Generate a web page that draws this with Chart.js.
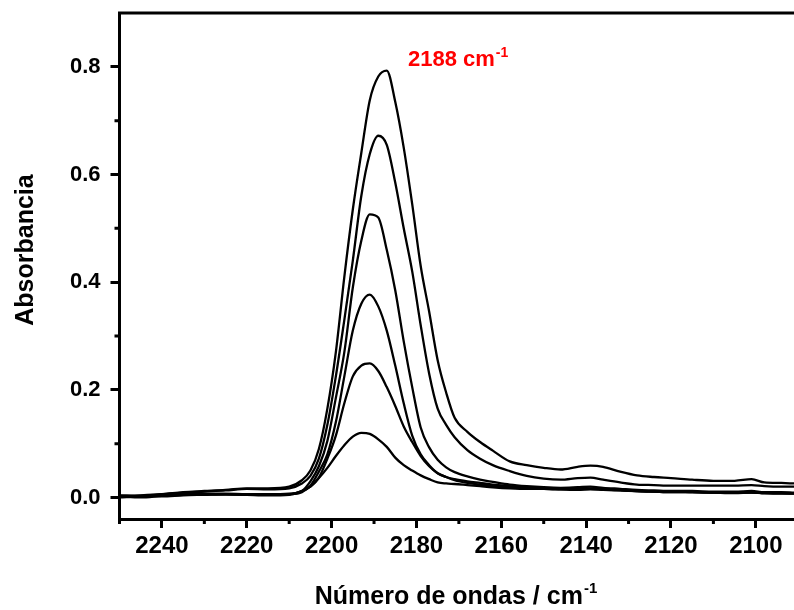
<!DOCTYPE html>
<html>
<head>
<meta charset="utf-8">
<script src="https://cdn.jsdelivr.net/npm/chart.js@4"></script>
<style>
  html, body { margin: 0; padding: 0; background: #fff; overflow: hidden; }
</style>
</head>
<body>
<canvas id="myChart" width="794" height="610"></canvas>
<script>
// Wavenumbers (cm-1)
const wavenumbers = [2250, 2245, 2240, 2235, 2230, 2225, 2220, 2215, 2210, 2207, 2205, 2203, 2201, 2199, 2197, 2195, 2193, 2191, 2189, 2187, 2185, 2183, 2181, 2179, 2177, 2175, 2173, 2171, 2168, 2165, 2162, 2158, 2154, 2150, 2146, 2142, 2139, 2136, 2132, 2128, 2124, 2120, 2115, 2110, 2105, 2101, 2098, 2094, 2091];

// Absorbance spectra, largest to smallest
const absorbance1 = [0.003, 0.004, 0.006, 0.010, 0.012, 0.014, 0.017, 0.017, 0.020, 0.032, 0.050, 0.090, 0.165, 0.270, 0.410, 0.535, 0.640, 0.738, 0.782, 0.793, 0.735, 0.650, 0.545, 0.430, 0.345, 0.255, 0.195, 0.148, 0.122, 0.103, 0.087, 0.067, 0.060, 0.055, 0.052, 0.057, 0.059, 0.057, 0.048, 0.041, 0.038, 0.036, 0.033, 0.031, 0.031, 0.034, 0.028, 0.027, 0.026];
const absorbance2 = [0.002, 0.003, 0.006, 0.009, 0.011, 0.013, 0.016, 0.015, 0.017, 0.026, 0.040, 0.072, 0.135, 0.225, 0.330, 0.440, 0.560, 0.638, 0.672, 0.655, 0.585, 0.500, 0.420, 0.320, 0.230, 0.165, 0.135, 0.112, 0.088, 0.072, 0.060, 0.049, 0.040, 0.035, 0.033, 0.036, 0.037, 0.033, 0.028, 0.024, 0.023, 0.022, 0.022, 0.022, 0.022, 0.023, 0.021, 0.020, 0.020];
const absorbance3 = [0.004, 0.003, 0.005, 0.007, 0.007, 0.007, 0.006, 0.006, 0.007, 0.012, 0.030, 0.058, 0.105, 0.185, 0.270, 0.390, 0.477, 0.526, 0.520, 0.460, 0.385, 0.290, 0.205, 0.130, 0.093, 0.070, 0.056, 0.047, 0.039, 0.033, 0.029, 0.024, 0.021, 0.019, 0.018, 0.019, 0.020, 0.018, 0.016, 0.014, 0.013, 0.012, 0.012, 0.011, 0.011, 0.012, 0.010, 0.010, 0.009];
const absorbance4 = [0.001, 0.002, 0.004, 0.006, 0.006, 0.006, 0.005, 0.005, 0.006, 0.010, 0.022, 0.048, 0.080, 0.140, 0.225, 0.310, 0.360, 0.377, 0.355, 0.310, 0.245, 0.175, 0.115, 0.080, 0.060, 0.045, 0.038, 0.034, 0.030, 0.027, 0.024, 0.021, 0.019, 0.017, 0.016, 0.017, 0.017, 0.016, 0.014, 0.012, 0.011, 0.010, 0.010, 0.009, 0.009, 0.010, 0.008, 0.008, 0.007];
const absorbance5 = [0.002, 0.000, 0.003, 0.005, 0.006, 0.006, 0.005, 0.004, 0.005, 0.012, 0.020, 0.037, 0.072, 0.115, 0.175, 0.225, 0.245, 0.249, 0.235, 0.205, 0.170, 0.132, 0.103, 0.077, 0.058, 0.045, 0.038, 0.032, 0.027, 0.024, 0.021, 0.019, 0.017, 0.016, 0.015, 0.015, 0.016, 0.015, 0.013, 0.012, 0.011, 0.010, 0.010, 0.009, 0.008, 0.009, 0.008, 0.007, 0.007];
const absorbance6 = [0.000, 0.002, 0.002, 0.004, 0.005, 0.006, 0.006, 0.005, 0.006, 0.012, 0.020, 0.036, 0.055, 0.077, 0.097, 0.113, 0.120, 0.118, 0.108, 0.094, 0.074, 0.060, 0.050, 0.041, 0.034, 0.028, 0.026, 0.025, 0.023, 0.021, 0.019, 0.017, 0.016, 0.016, 0.015, 0.014, 0.015, 0.014, 0.013, 0.012, 0.011, 0.011, 0.010, 0.009, 0.009, 0.009, 0.008, 0.008, 0.008];

// Tick labels
const xTickValues = [2240, 2220, 2200, 2180, 2160, 2140, 2120, 2100];
const xMinorTicks = [2250, 2230, 2210, 2190, 2170, 2150, 2130, 2110];
const yTickValues = [0.0, 0.2, 0.4, 0.6, 0.8];
const yMinorTicks = [0.1, 0.3, 0.5, 0.7];

const fontFamily = '"Liberation Sans", Arial, sans-serif';
const ctx = document.querySelector("#myChart");

// Builds {x, y} points for one spectrum
function toPoints(values) {
    return wavenumbers.map((w, i) => ({ x: w, y: values[i] }));
}

const allSeries = [absorbance1, absorbance2, absorbance3, absorbance4, absorbance5, absorbance6];

// Remove the extra room Chart.js keeps for edge labels
function noEdgePadding(scale) {
    scale.paddingTop = 0;
    scale.paddingBottom = 0;
    scale.paddingLeft = 0;
    scale.paddingRight = 0;
}

// Minor ticks, top frame line, titles and the peak label
const framePlugin = {
    id: "frame",
    afterDraw(chart) {
        const c = chart.ctx;
        const area = chart.chartArea;
        const xs = chart.scales.x;
        const ys = chart.scales.y;
        c.save();
        c.strokeStyle = "#000";
        c.lineWidth = 3;
        c.beginPath();
        c.moveTo(area.left - 1.5, area.top);
        c.lineTo(area.right, area.top);
        xMinorTicks.forEach(v => {
            const px = xs.getPixelForValue(v);
            c.moveTo(px, area.bottom);
            c.lineTo(px, area.bottom + 5);
        });
        yMinorTicks.forEach(v => {
            const py = ys.getPixelForValue(v);
            c.moveTo(area.left, py);
            c.lineTo(area.left - 5, py);
        });
        c.stroke();

        c.fillStyle = "#000";
        c.textBaseline = "alphabetic";
        // x title with superscript
        c.font = "bold 25px " + fontFamily;
        const xTitle = "Número de ondas / cm";
        const w1 = c.measureText(xTitle).width;
        c.font = "bold 15px " + fontFamily;
        const w2 = c.measureText("-1").width;
        const startX = 456 - (w1 + w2 + 1) / 2;
        c.font = "bold 25px " + fontFamily;
        c.textAlign = "left";
        c.fillText(xTitle, startX, 604);
        c.font = "bold 15px " + fontFamily;
        c.fillText("-1", startX + w1 + 1, 593);

        // y title
        c.save();
        c.translate(33, 250);
        c.rotate(-Math.PI / 2);
        c.textAlign = "center";
        c.font = "bold 25px " + fontFamily;
        c.fillText("Absorbancia", 0, 0);
        c.restore();

        // peak label
        c.fillStyle = "#ff0000";
        c.textAlign = "left";
        c.font = "bold 22px " + fontFamily;
        const peakText = "2188 cm";
        c.fillText(peakText, 408, 66);
        const pw = c.measureText(peakText).width;
        c.font = "bold 14px " + fontFamily;
        c.fillText("-1", 408 + pw + 1, 57);
        c.restore();
    }
};

let spectraChart = new Chart(ctx, {
    type: "line",
    data: {
        datasets: allSeries.map(values => ({
            data: toPoints(values),
            borderColor: "#000",
            borderWidth: 2.3,
            pointRadius: 0,
            fill: false,
            cubicInterpolationMode: "monotone"
        }))
    },
    plugins: [framePlugin],
    options: {
        responsive: false,
        animation: false,
        devicePixelRatio: 1,
        layout: { padding: { left: 0, right: 0, top: 13, bottom: 0 } },
        plugins: {
            legend: { display: false },
            tooltip: { enabled: false }
        },
        scales: {
            x: {
                type: "linear",
                reverse: true,
                min: 2091,
                max: 2250,
                afterBuildTicks: scale => { scale.ticks = xTickValues.map(v => ({ value: v })); },
                afterFit: scale => { scale.height = 91; noEdgePadding(scale); },
                ticks: {
                    color: "#000",
                    font: { family: fontFamily, size: 24, weight: "bold" },
                    padding: 4,
                    maxRotation: 0,
                    autoSkip: false,
                    callback: value => String(value)
                },
                grid: {
                    drawOnChartArea: false,
                    drawTicks: true,
                    tickLength: 9,
                    tickWidth: 3,
                    color: "#000"
                },
                border: { display: true, color: "#000", width: 3 }
            },
            y: {
                min: -0.04,
                max: 0.9,
                afterBuildTicks: scale => { scale.ticks = yTickValues.map(v => ({ value: v })); },
                afterFit: scale => { scale.width = 119.5; noEdgePadding(scale); },
                ticks: {
                    color: "#000",
                    font: { family: fontFamily, size: 22, weight: "bold" },
                    padding: 10,
                    autoSkip: false,
                    callback: value => value.toFixed(1)
                },
                grid: {
                    drawOnChartArea: false,
                    drawTicks: true,
                    tickLength: 9,
                    tickWidth: 3,
                    color: "#000"
                },
                border: { display: true, color: "#000", width: 3 }
            }
        }
    }
});
</script>
</body>
</html>
